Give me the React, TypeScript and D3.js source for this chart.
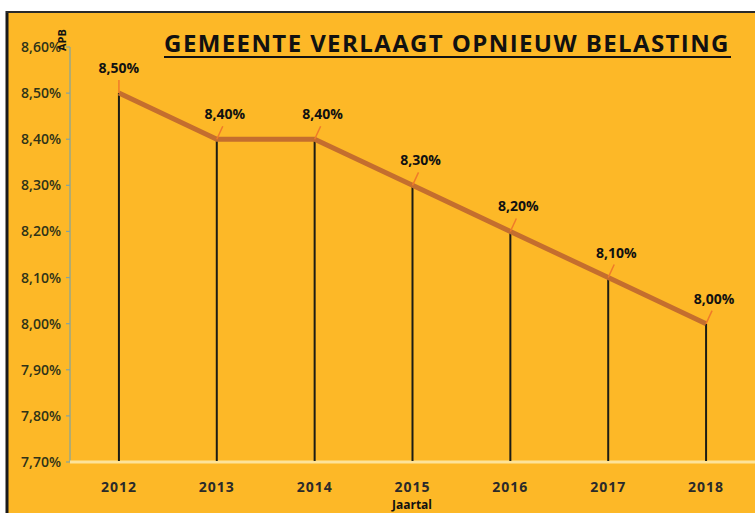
import React from "react";
import * as d3 from "d3";

const years = ["2012", "2013", "2014", "2015", "2016", "2017", "2018"];
const rates = [8.5, 8.4, 8.4, 8.3, 8.2, 8.1, 8.0];
const yTicks = [7.7, 7.8, 7.9, 8.0, 8.1, 8.2, 8.3, 8.4, 8.5, 8.6];
const title = "GEMEENTE VERLAAGT OPNIEUW BELASTING";

const W = 755, H = 513;
const fmt = (v: number) => v.toFixed(2).replace(".", ",") + "%";

export default function App() {
  const x = d3.scaleBand<string>().domain(years).range([70, 755]);
  const y = d3.scaleLinear().domain([7.7, 8.6]).range([462, 47]);
  const cx = (d: string) => (x(d) as number) + x.bandwidth() / 2;
  const pts: [number, number][] = years.map((d, i) => [cx(d), y(rates[i])]);
  const line = d3.line()(pts) as string;
  const font = "'Open Sans', 'DejaVu Sans', sans-serif";
  return (
    <svg width={W} height={H} style={{ position: "absolute", left: 0, top: 0 }}>
      <rect x={0} y={0} width={W} height={H} fill="#ffffff" />
      <rect x={6} y={11} width={W} height={H} fill="#FDB827" />
      <line x1={7} y1={11} x2={7} y2={H} stroke="#1a1a1a" strokeWidth={3} />
      <line x1={6} y1={12} x2={W} y2={12} stroke="#2a2a2a" strokeWidth={2} />
      {/* title */}
      <text x={447} y={52} textAnchor="middle" fontFamily={font} fontWeight={700} fontSize={24} letterSpacing={1.4} fill="#111">{title}</text>
      <line x1={164} y1={57} x2={731} y2={57} stroke="#111" strokeWidth={2} />
      {/* y axis */}
      <line x1={70} y1={47} x2={70} y2={462} stroke="#7fa3a3" strokeWidth={1.2} />
      {yTicks.map((t) => (
        <g key={t}>
          <line x1={66} x2={70} y1={y(t)} y2={y(t)} stroke="#7fa3a3" strokeWidth={1.2} />
          <text x={61} y={y(t) + 5} textAnchor="end" fontFamily={font} fontWeight={600} fontSize={14} fill="#2f3318">{fmt(t)}</text>
        </g>
      ))}
      <text transform="translate(66,51) rotate(-90)" fontFamily={font} fontWeight={700} fontSize={11} fill="#111">APB</text>
      {/* x axis */}
      <line x1={70} y1={462} x2={755} y2={462} stroke="#fde39a" strokeWidth={3} />
      {/* drop lines */}
      {years.map((d, i) => (
        <line key={d} x1={cx(d)} x2={cx(d)} y1={y(rates[i])} y2={461} stroke="#1c1c14" strokeWidth={2} />
      ))}
      <path d={line} fill="none" stroke="#C46E2E" strokeWidth={5} strokeLinejoin="round" />
      {/* labels */}
      {years.map((d, i) => {
        const px = cx(d), py = y(rates[i]);
        const first = i === 0;
        return (
          <g key={"l" + d}>
            <line x1={px} y1={py} x2={first ? px : px + 6} y2={py - 13} stroke="#F07A2A" strokeWidth={1.5} />
            <text x={first ? px : px + 8} y={py - 20} textAnchor="middle" fontFamily={font} fontWeight={700} fontSize={14} fill="#111">{fmt(rates[i])}</text>
          </g>
        );
      })}
      {years.map((d) => (
        <text key={"t" + d} x={cx(d)} y={492} textAnchor="middle" fontFamily={font} fontWeight={700} fontSize={14} letterSpacing={1} fill="#2a2a2a">{d}</text>
      ))}
      <text x={412} y={509} textAnchor="middle" fontFamily={font} fontWeight={700} fontSize={12} fill="#111">Jaartal</text>
    </svg>
  );
}
